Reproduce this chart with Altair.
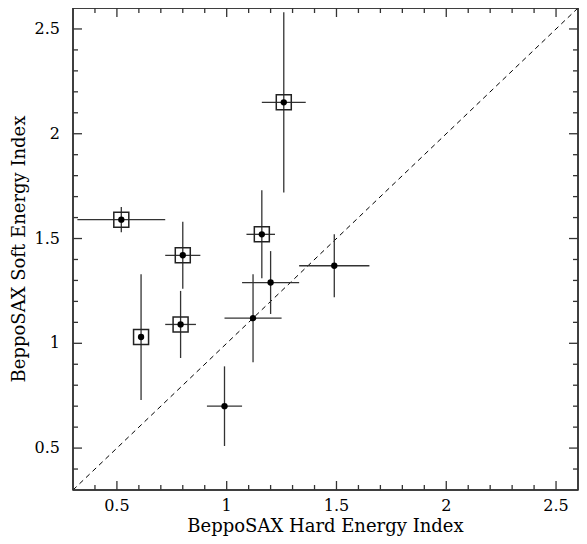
import altair as alt
import pandas as pd

# ---- data ----
hard = [0.52, 0.80, 1.16, 1.26, 0.61, 0.79, 0.99, 1.12, 1.20, 1.49]
soft = [1.59, 1.42, 1.52, 2.15, 1.03, 1.09, 0.70, 1.12, 1.29, 1.37]
hard_lo = [0.32, 0.72, 1.09, 1.16, 0.61, 0.72, 0.91, 0.99, 1.07, 1.33]
hard_hi = [0.72, 0.88, 1.22, 1.36, 0.61, 0.86, 1.07, 1.25, 1.33, 1.65]
soft_lo = [1.53, 1.26, 1.31, 1.72, 0.73, 0.93, 0.51, 0.91, 1.14, 1.22]
soft_hi = [1.65, 1.58, 1.73, 2.58, 1.33, 1.25, 0.89, 1.33, 1.44, 1.52]
boxed = [True, True, True, True, True, True, False, False, False, False]

major_ticks = [0.5, 1.0, 1.5, 2.0, 2.5]
major_labels = ["0.5", "1", "1.5", "2", "2.5"]
minor_ticks = [0.4, 0.6, 0.7, 0.8, 0.9, 1.1, 1.2, 1.3, 1.4, 1.6, 1.7, 1.8,
               1.9, 2.1, 2.2, 2.3, 2.4]
x_title = ["BeppoSAX Hard Energy Index"]
y_title = ["BeppoSAX Soft Energy Index"]
diag = [0.3, 2.6]
domain = [0.3, 2.6]

W, H = 505, 482
FONT = "DejaVu Serif"
ERR = "#333333"
TICKC = "#333333"

df = pd.DataFrame({"hard": hard, "soft": soft, "hlo": hard_lo, "hhi": hard_hi,
                   "slo": soft_lo, "shi": soft_hi, "boxed": boxed})
boxdf = df[df["boxed"]]
diag_df = pd.DataFrame({"v": diag})
major_df = pd.DataFrame({"t": major_ticks, "lab": major_labels})
minor_df = pd.DataFrame({"t": minor_ticks})
edge_df = pd.DataFrame({"e": domain})
xt_df = pd.DataFrame({"title": x_title})
yt_df = pd.DataFrame({"title": y_title})

xs = alt.Scale(domain=domain, nice=False, zero=False)
ys = alt.Scale(domain=domain, nice=False, zero=False)


def X(f):
    return alt.X(f, scale=xs, axis=None)


def Y(f):
    return alt.Y(f, scale=ys, axis=None)


points = alt.Chart(df).mark_point(shape="circle", filled=True, size=40, color="black",
                                   opacity=1).encode(x=X("hard:Q"), y=Y("soft:Q"))
xerr = alt.Chart(df).mark_rule(color=ERR, strokeWidth=1.3).encode(
    x=X("hlo:Q"), x2="hhi:Q", y=Y("soft:Q"))
yerr = alt.Chart(df).mark_rule(color=ERR, strokeWidth=1.3).encode(
    x=X("hard:Q"), y=Y("slo:Q"), y2="shi:Q")
boxes = alt.Chart(boxdf).mark_point(shape="square", filled=False, size=225,
                                     color="#222222", strokeWidth=1.5, opacity=1).encode(
    x=X("hard:Q"), y=Y("soft:Q"))
diagline = alt.Chart(diag_df).mark_line(color="black", strokeWidth=1,
                                        strokeDash=[5, 4]).encode(
    x=X("v:Q"), y=Y("v:Q"))

# plot frame drawn as thin filled bars at the domain edges
frame_v = alt.Chart(edge_df).mark_rect(color=TICKC, width=1.5).encode(
    x=X("e:Q"), y=alt.value(0), y2=alt.value(H))
frame_h = alt.Chart(edge_df).mark_rect(color=TICKC, height=1.5).encode(
    y=Y("e:Q"), x=alt.value(0), x2=alt.value(W))


def tick_layers(tdf, length):
    vbase = alt.Chart(tdf).mark_rect(color=TICKC, width=1.3)
    hbase = alt.Chart(tdf).mark_rect(color=TICKC, height=1.3)
    bottom = vbase.encode(x=X("t:Q"), y=alt.value(H - length), y2=alt.value(H))
    top = vbase.encode(x=X("t:Q"), y=alt.value(0), y2=alt.value(length))
    left = hbase.encode(y=Y("t:Q"), x=alt.value(0), x2=alt.value(length))
    right = hbase.encode(y=Y("t:Q"), x=alt.value(W - length), x2=alt.value(W))
    return [bottom, top, left, right]


xlabels = alt.Chart(major_df).mark_text(font=FONT, fontSize=16, color="black",
                                         align="center", baseline="middle").encode(
    x=X("t:Q"), y=alt.value(H + 16), text="lab:N")
ylabels = alt.Chart(major_df).mark_text(font=FONT, fontSize=16, color="black",
                                         align="right", baseline="middle").encode(
    y=Y("t:Q"), x=alt.value(-13), text="lab:N")
xtitle = alt.Chart(xt_df).mark_text(font=FONT, fontSize=18, color="black",
                                     align="center", baseline="middle").encode(
    x=alt.value(W / 2), y=alt.value(H + 37), text="title:N")
ytitle = alt.Chart(yt_df).mark_text(font=FONT, fontSize=18, color="black", angle=270,
                                     align="center", baseline="middle").encode(
    x=alt.value(-53), y=alt.value(H / 2), text="title:N")

chart = alt.layer(diagline, frame_v, frame_h, *tick_layers(major_df, 9),
                  *tick_layers(minor_df, 5),
                  xerr, yerr, boxes, points, xlabels, ylabels, xtitle,
                  ytitle).properties(
    width=W, height=H,
    background="white",
    autosize=alt.AutoSizeParams(type="none"),
    padding={"left": 65, "top": 0, "right": 1, "bottom": 46},
).configure_view(stroke="#333333", strokeWidth=1.5)

chart.save("out.html", embed_options={"renderer": "svg", "actions": False})
